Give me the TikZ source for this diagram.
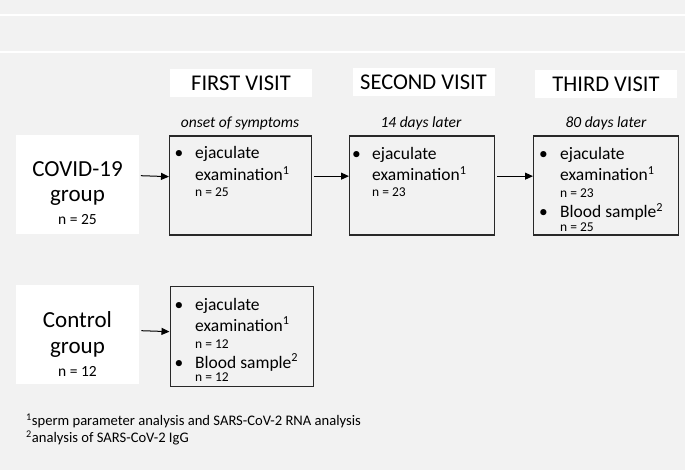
\documentclass[tikz,border=0pt]{standalone}
\usepackage{fontspec}
\setmainfont{Carlito}
\usetikzlibrary{arrows.meta}
\definecolor{bggray}{RGB}{242,242,242}
\definecolor{boxline}{RGB}{40,40,40}
\begin{document}
\begin{tikzpicture}[x=1pt,y=-1pt,
  whitebox/.style={fill=white,draw=none,inner sep=0pt},
  vbox/.style={draw=boxline,line width=1.3pt,fill=none,inner sep=0pt,anchor=north west},
  hdr/.style={whitebox,font=\fontsize{22.5}{24}\selectfont,minimum width=142pt,minimum height=28pt},
  lbl/.style={inner sep=0pt,font=\fontsize{15.5}{17}\selectfont\itshape},
  txt/.style={inner sep=0pt,anchor=base west,font=\fontsize{17.5}{20}\selectfont},
  ntxt/.style={inner sep=0pt,anchor=base west,font=\fontsize{13.5}{15}\selectfont},
  grp/.style={inner sep=0pt,anchor=base,font=\fontsize{23}{26}\selectfont},
  gn/.style={inner sep=0pt,anchor=base,font=\fontsize{15.5}{17}\selectfont},
  foot/.style={inner sep=0pt,anchor=base west,font=\fontsize{14.6}{16}\selectfont},
  arr/.style={draw=black,line width=1pt,-{Triangle[length=8pt,width=7pt]}}]
\useasboundingbox (0,0) rectangle (685,470);
\fill[bggray] (0,0) rectangle (685,470);
\draw[white,line width=1.5pt] (0,15) -- (685,15);
\draw[white,line width=1.5pt] (0,52) -- (685,52);
% headers
\node[hdr] (h1) at (241,83) {FIRST VISIT};
\node[hdr] (h2) at (423.5,82) {SECOND VISIT};
\node[hdr] (h3) at (606,84) {THIRD VISIT};
% time labels
\node[lbl,anchor=base] (t1) at (240,127.5) {onset of symptoms};
\node[lbl,anchor=base] (t2) at (421,127.5) {14 days later};
\node[lbl,anchor=base] (t3) at (606,127.5) {80 days later};
% group boxes
\node[whitebox,anchor=north west,minimum width=123pt,minimum height=99pt] (cg) at (16,135) {};
\node[grp] (cg1) at (77.5,176.5) {COVID-19};
\node[grp] (cg2) at (77.5,202) {group};
\node[gn] (cg3) at (77.5,225) {n = 25};
\node[whitebox,anchor=north west,minimum width=123pt,minimum height=99pt] (kg) at (16,285) {};
\node[grp] (kg1) at (77.5,327.5) {Control};
\node[grp] (kg2) at (77.5,353) {group};
\node[gn] (kg3) at (77.5,376) {n = 12};
% visit boxes
\node[vbox,minimum width=142pt,minimum height=99pt] (b1) at (169,135.5) {};
\node[vbox,minimum width=145pt,minimum height=99pt] (b2) at (349,135.5) {};
\node[vbox,minimum width=145pt,minimum height=99pt] (b3) at (533,135.5) {};
\node[vbox,minimum width=143pt,minimum height=100pt] (b4) at (169.5,285.5) {};
% box 1
\node[txt] (b1d) at (174.5,159) {•};
\node[txt] (b1a) at (195,159) {ejaculate};
\node[txt] (b1b) at (195,180.5) {examination\textsuperscript{1}};
\node[ntxt] (b1c) at (195,197) {n = 25};
% box 2
\node[txt] (b2d) at (352,159.5) {•};
\node[txt] (b2a) at (372,159.5) {ejaculate};
\node[txt] (b2b) at (372,180.5) {examination\textsuperscript{1}};
\node[ntxt] (b2c) at (372,197) {n = 23};
% box 3
\node[txt] (b3d) at (539,160) {•};
\node[txt] (b3a) at (560,160) {ejaculate};
\node[txt] (b3b) at (560,180.5) {examination\textsuperscript{1}};
\node[ntxt] (b3c) at (560,198) {n = 23};
\node[txt] (b3e) at (539,217.5) {•};
\node[txt] (b3f) at (560,217.5) {Blood sample\textsuperscript{2}};
\node[ntxt] (b3g) at (560,231.5) {n = 25};
% box 4
\node[txt] (b4d) at (174.5,310) {•};
\node[txt] (b4a) at (195,310) {ejaculate};
\node[txt] (b4b) at (195,331) {examination\textsuperscript{1}};
\node[ntxt] (b4c) at (195,348) {n = 12};
\node[txt] (b4e) at (174.5,368) {•};
\node[txt] (b4f) at (195,368) {Blood sample\textsuperscript{2}};
\node[ntxt] (b4g) at (195,381.5) {n = 12};
% arrows
\draw[arr] ([xshift=1.5pt,yshift=9pt]cg.east) -- ([yshift=9pt]b1.west);
\draw[arr] ([xshift=1.5pt,yshift=9.5pt]b1.east) -- ([yshift=9.5pt]b2.west);
\draw[arr] ([xshift=1.5pt,yshift=9.5pt]b2.east) -- ([yshift=9.5pt]b3.west);
\draw[arr] ([xshift=2pt,yshift=4pt]kg.east) -- ([yshift=4.5pt]b4.west);
% footnotes
\node[foot] (f1) at (26,425.5) {\textsuperscript{1}sperm parameter analysis and SARS-CoV-2 RNA analysis};
\node[foot] (f2) at (26,442.5) {\textsuperscript{2}analysis of SARS-CoV-2 IgG};
\end{tikzpicture}
\end{document}
